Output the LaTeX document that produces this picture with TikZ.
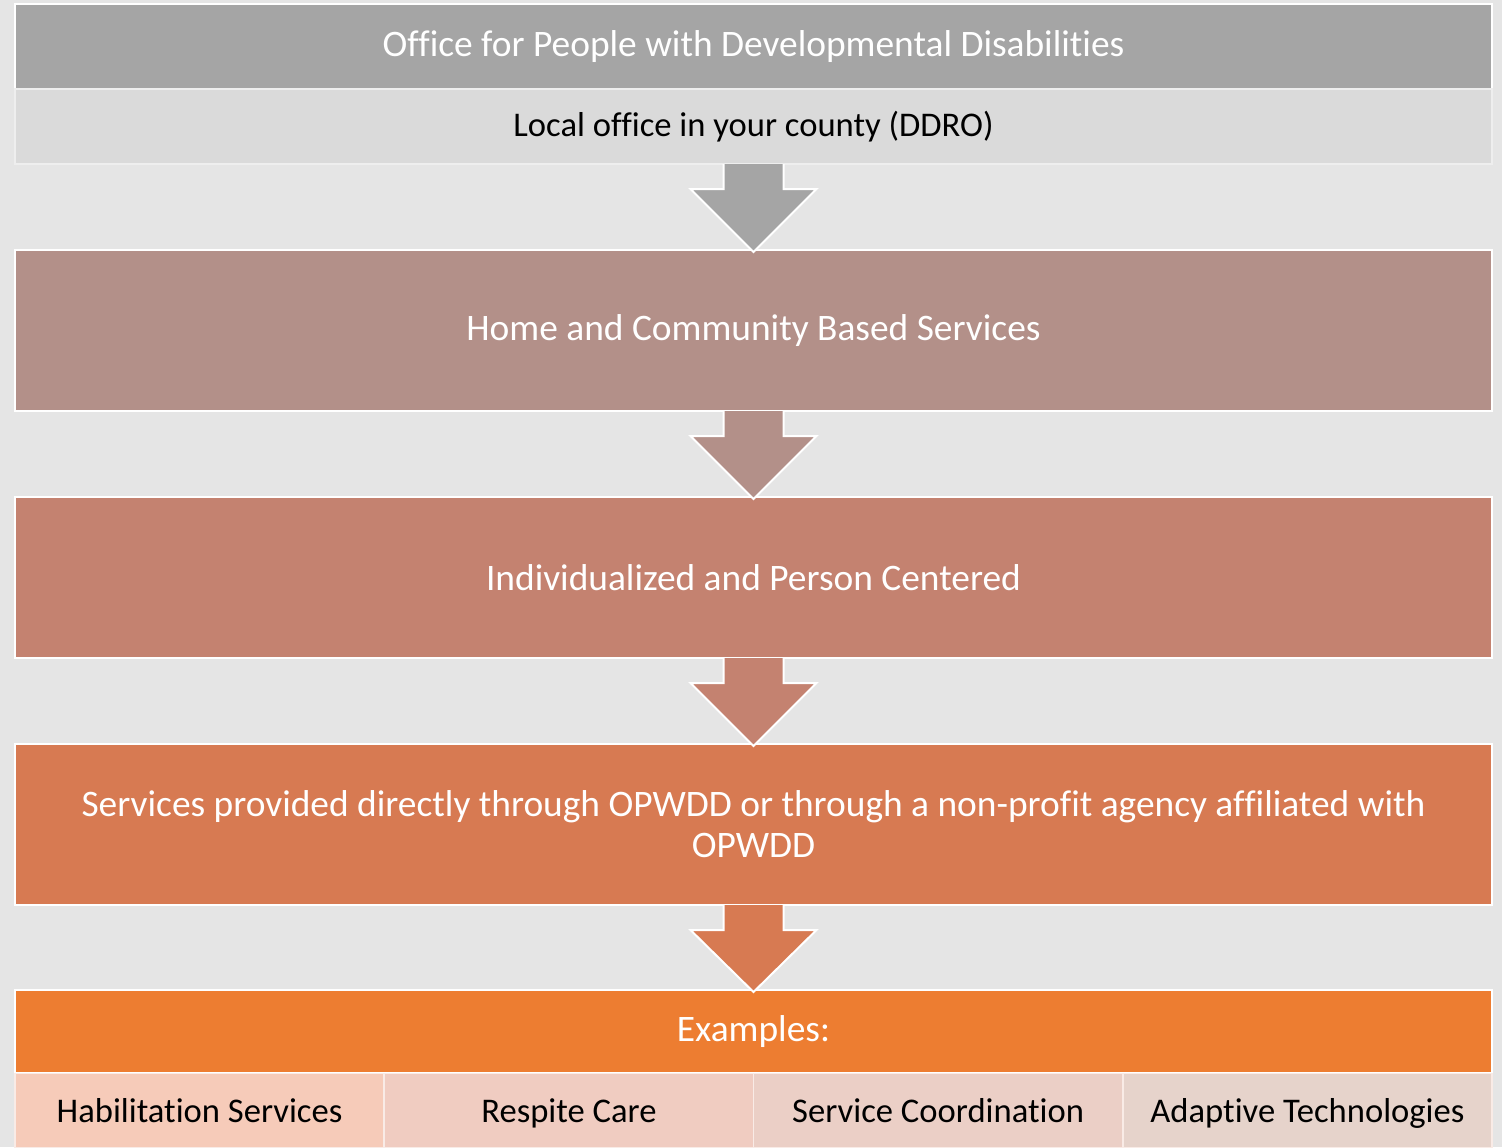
\documentclass[tikz,border=0pt]{standalone}
\usepackage{fontspec}
\setmainfont{Carlito}[Ligatures=NoCommon]
\usetikzlibrary{positioning,calc}

\definecolor{bggrey}{HTML}{E5E5E5}
\definecolor{topgrey}{HTML}{A5A5A5}
\definecolor{subgrey}{HTML}{DADADA}
\definecolor{rosegrey}{HTML}{B39089}
\definecolor{rosered}{HTML}{C48270}
\definecolor{rustorange}{HTML}{D77A52}
\definecolor{brightorange}{HTML}{ED7D31}
\definecolor{peachA}{HTML}{F6CBB9}
\definecolor{peachB}{HTML}{F0CCC1}
\definecolor{peachC}{HTML}{EBCFC6}
\definecolor{peachD}{HTML}{E6D3CB}

% block arrow from the bottom of one box to the top of the next
\newcommand{\flowarrow}[3]{%
  \filldraw[fill=#3, draw=white, line width=1pt, line join=miter]
    ($(#1.south)+(-30,0)$) -- ($(#1.south)+(-30,25)$) -- ($(#1.south)+(-63,25)$)
    -- ($(#2.north)+(0,2)$)
    -- ($(#1.south)+(63,25)$) -- ($(#1.south)+(30,25)$) -- ($(#1.south)+(30,0)$);
}

\begin{document}
\begin{tikzpicture}[x=0.5pt,y=-0.5pt,
  box/.style={rectangle, draw=white, line width=1.25pt, outer sep=0pt, inner sep=0pt,
    minimum width=738.5pt, align=center, text=white,
    font=\fontsize{18.7}{20.5}\selectfont},
  subbox/.style={box, draw=white!55!subgrey, line width=0.75pt, text=black,
    font=\fontsize{17.3}{20}\selectfont},
  cell/.style={rectangle, draw=white!60!peachB, line width=0.75pt, outer sep=0pt, inner sep=0pt,
    minimum width=184.6pt, minimum height=37pt, text=black,
    text height=12pt, text depth=0pt,
    font=\fontsize{17.3}{20}\selectfont}]

\fill[bggrey] (0,0) rectangle (1502,1147);
\useasboundingbox (0,0) rectangle (1502,1147);

% boxes, top to bottom
\node[box, fill=topgrey, minimum height=42.5pt] (opwdd) at (753.5,46.5)
  {Office for People with Developmental Disabilities};
\node[subbox, fill=subgrey, minimum height=37.5pt] (ddro) at (753.5,126.5)
  {Local office in your county (DDRO)};
\node[box, fill=rosegrey, minimum height=80.5pt] (hcbs) at (753.5,330.5)
  {Home and Community Based Services};
\node[box, fill=rosered, minimum height=80.5pt] (person) at (753.5,577.5)
  {Individualized and Person Centered};
\node[box, fill=rustorange, minimum height=80.5pt] (agency) at (753.5,824.5)
  {Services provided directly through OPWDD or through a non-profit agency affiliated with\\OPWDD};
\node[box, fill=brightorange, minimum height=41.5pt] (examples) at (753.5,1031.5)
  {Examples:};

% example cells
\node[cell, fill=peachA] (habil) at (199.6,1110.5) {Habilitation Services};
\node[cell, fill=peachB] (respite) at (568.9,1110.5) {Respite Care};
\node[cell, fill=peachC] (coord) at (938.1,1110.5) {Service Coordination};
\node[cell, fill=peachD] (adapt) at (1307.4,1110.5) {Adaptive Technologies};

% arrows
\flowarrow{ddro}{hcbs}{topgrey}
\flowarrow{hcbs}{person}{rosegrey}
\flowarrow{person}{agency}{rosered}
\flowarrow{agency}{examples}{rustorange}
\end{tikzpicture}
\end{document}
